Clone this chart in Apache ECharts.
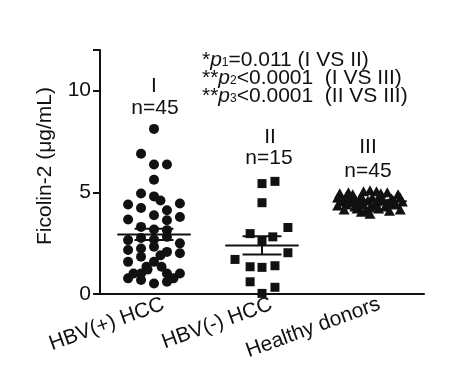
<!DOCTYPE html>
<html>
<head>
<meta charset="utf-8">
<script src="https://cdn.jsdelivr.net/npm/echarts@6/dist/echarts.min.js"></script>
<style>
  html, body { margin: 0; padding: 0; background: #fff; }
  #chart { width: 465px; height: 376px; }
</style>
</head>
<body>
<div id="chart"></div>
<script>
const categories = ['HBV(+) HCC', 'HBV(-) HCC', 'Healthy donors'];
const yTicks = [0, 5, 10];

// Group I: HBV(+) HCC  [x offset from group centre, value]
const hbvPos = [
  [0, 8.12], [-0.12, 6.9], [0, 6.37], [0.12, 6.37], [0, 5.62],
  [-0.12, 4.94], [0, 4.8], [0.06, 4.6], [-0.24, 4.4], [0.24, 4.45],
  [-0.12, 4.23], [0.12, 4.12], [-0.24, 3.66], [0, 3.87], [0.12, 3.63],
  [0.24, 3.79], [-0.12, 3.3], [0, 3.17], [0.12, 3.14], [-0.24, 2.65],
  [-0.12, 2.76], [0, 2.68], [0.12, 2.81], [0.24, 2.49], [-0.24, 2.16],
  [-0.12, 2.24], [0, 2.32], [0.12, 2.07], [0.24, 2.0], [-0.12, 1.83],
  [-0.24, 1.58], [0, 1.58], [-0.07, 1.34], [0.07, 1.34], [-0.12, 1.01],
  [0.12, 1.01], [-0.19, 1.01], [0.24, 1.01], [0.18, 0.77], [0.12, 0.6],
  [-0.12, 0.69], [-0.24, 0.77], [0, 0.52], [0.06, 1.9], [-0.06, 1.2]
];

// Group II: HBV(-) HCC
const hbvNeg = [
  [0, 5.43], [0.12, 5.54], [0, 4.49], [0.24, 3.27], [-0.11, 2.97],
  [0.1, 2.81], [0, 2.6], [0.24, 2.03], [-0.25, 1.7], [-0.11, 1.34],
  [0, 1.31], [0.12, 1.39], [-0.11, 0.6], [0.12, 0.33], [0, 0.03]
];

// Group III: healthy donors
const healthy = [
  [-0.28, 4.95], [-0.2, 5.0], [-0.06, 5.05], [0, 5.1], [0.06, 5.05], [0.16, 5.0], [0.26, 4.9],
  [-0.3, 4.75], [-0.22, 4.8], [-0.14, 4.7], [-0.08, 4.8], [0.02, 4.75], [0.1, 4.8], [0.2, 4.7], [0.28, 4.75],
  [-0.26, 4.55], [-0.18, 4.6], [-0.1, 4.5], [-0.02, 4.6], [0.06, 4.55], [0.12, 4.6], [0.22, 4.5], [0.3, 4.55],
  [-0.3, 4.35], [-0.22, 4.4], [-0.14, 4.3], [-0.06, 4.4], [0.04, 4.35], [0.14, 4.3], [0.24, 4.4],
  [-0.24, 4.15], [-0.12, 4.2], [-0.04, 4.1], [0.08, 4.2], [0.18, 4.1], [0.28, 4.15],
  [-0.16, 4.9], [0.1, 4.95], [-0.1, 4.65], [0.16, 4.45], [0, 4.25], [-0.2, 4.5], [0.22, 4.6], [0, 3.95], [-0.08, 4.05]
];

const groups = [hbvPos, hbvNeg, healthy];
const FONT = 'Liberation Sans, Arial, sans-serif';
const FS = 21;

function place(list, idx) {
  return list.map(d => [idx + d[0], d[1]]);
}

// mean and SEM per group
const stats = groups.map((g, i) => {
  const v = g.map(d => d[1]);
  const n = v.length;
  const mean = v.reduce((a, b) => a + b, 0) / n;
  const sd = Math.sqrt(v.reduce((a, b) => a + (b - mean) * (b - mean), 0) / (n - 1));
  return [i, mean, sd / Math.sqrt(n)];
});

function label(text, x, y) {
  return {
    type: 'text', x: x, y: y, z: 10,
    style: { text: text, font: FS + 'px ' + FONT, fill: '#111', align: 'center', verticalAlign: 'middle' }
  };
}

const chart = echarts.init(document.getElementById('chart'));

const option = {
  animation: false,
  grid: { left: 100, right: 41, top: 50, bottom: 82 },
  xAxis: [
    {
      type: 'category',
      data: categories,
      axisLine: { lineStyle: { color: '#111', width: 2 } },
      axisTick: { alignWithLabel: true, length: 7, lineStyle: { color: '#111', width: 2 } },
      axisLabel: {
        rotate: 20, margin: 13, color: '#111', fontSize: FS, fontFamily: FONT,
        padding: [0, -10, 0, 0]
      }
    },
    {
      type: 'value',
      min: -0.5,
      max: 2.5,
      show: false,
      position: 'bottom'
    }
  ],
  yAxis: {
    type: 'value',
    min: 0,
    max: 12,
    interval: 5,
    name: 'Ficolin-2 (μg/mL)',
    nameLocation: 'middle',
    nameGap: 44,
    nameTextStyle: { color: '#111', fontSize: FS, fontFamily: FONT, padding: [0, 0, 0, 12] },
    axisLine: { show: true, onZero: false, lineStyle: { color: '#111', width: 2 } },
    axisTick: { show: true, length: 7, lineStyle: { color: '#111', width: 2 } },
    axisLabel: {
      color: '#111', fontSize: FS, fontFamily: FONT, margin: 9,
      formatter: v => (yTicks.indexOf(v) >= 0 ? String(v) : '')
    },
    splitLine: { show: false }
  },
  series: [
    {
      type: 'scatter', xAxisIndex: 1, symbol: 'circle', symbolSize: 10,
      itemStyle: { color: '#111', opacity: 1 }, data: place(hbvPos, 0)
    },
    {
      type: 'scatter', xAxisIndex: 1, symbol: 'rect', symbolSize: 9,
      itemStyle: { color: '#111', opacity: 1 }, data: place(hbvNeg, 1)
    },
    {
      type: 'scatter', xAxisIndex: 1, symbol: 'triangle', symbolSize: [11, 10],
      itemStyle: { color: '#111', opacity: 1 }, data: place(healthy, 2)
    },
    {
      type: 'custom', xAxisIndex: 1, data: stats, z: 5,
      renderItem: function (params, api) {
        const x = api.value(0), m = api.value(1), s = api.value(2);
        const l = api.coord([x - 0.34, m]), r = api.coord([x + 0.34, m]);
        const top = api.coord([x, m + s]), bot = api.coord([x, m - s]);
        const cl = api.coord([x - 0.18, 0])[0], cr = api.coord([x + 0.18, 0])[0];
        const st = { stroke: '#111', lineWidth: 2 };
        return {
          type: 'group',
          children: [
            { type: 'line', shape: { x1: l[0], y1: l[1], x2: r[0], y2: r[1] }, style: st },
            { type: 'line', shape: { x1: top[0], y1: top[1], x2: bot[0], y2: bot[1] }, style: st },
            { type: 'line', shape: { x1: cl, y1: top[1], x2: cr, y2: top[1] }, style: st },
            { type: 'line', shape: { x1: cl, y1: bot[1], x2: cr, y2: bot[1] }, style: st }
          ]
        };
      }
    }
  ],
  graphic: [
    label('I', 154, 86),
    label('n=45', 155, 108),
    label('II', 270, 137),
    label('n=15', 269, 158),
    label('III', 368, 147),
    label('n=45', 368, 171),
    {
      type: 'text', x: 202, y: 51, z: 10,
      style: {
        text: '{t|*}{p|p}{s|1}{t|=0.011 (I VS II)}\n{t|**}{p|p}{s|2}{t|<0.0001  (I VS III)}\n{t|**}{p|p}{s|3}{t|<0.0001  (II VS III)}',
        fill: '#111',
        rich: {
          t: { fontSize: FS, fontFamily: FONT, lineHeight: 18, fill: '#111' },
          p: { fontSize: FS, fontFamily: FONT, fontStyle: 'italic', lineHeight: 18, fill: '#111' },
          s: { fontSize: 12, fontFamily: FONT, lineHeight: 18, verticalAlign: 'bottom', padding: [10, 0, 0, 0], fill: '#111' }
        }
      }
    }
  ]
};

chart.setOption(option);
</script>
</body>
</html>
